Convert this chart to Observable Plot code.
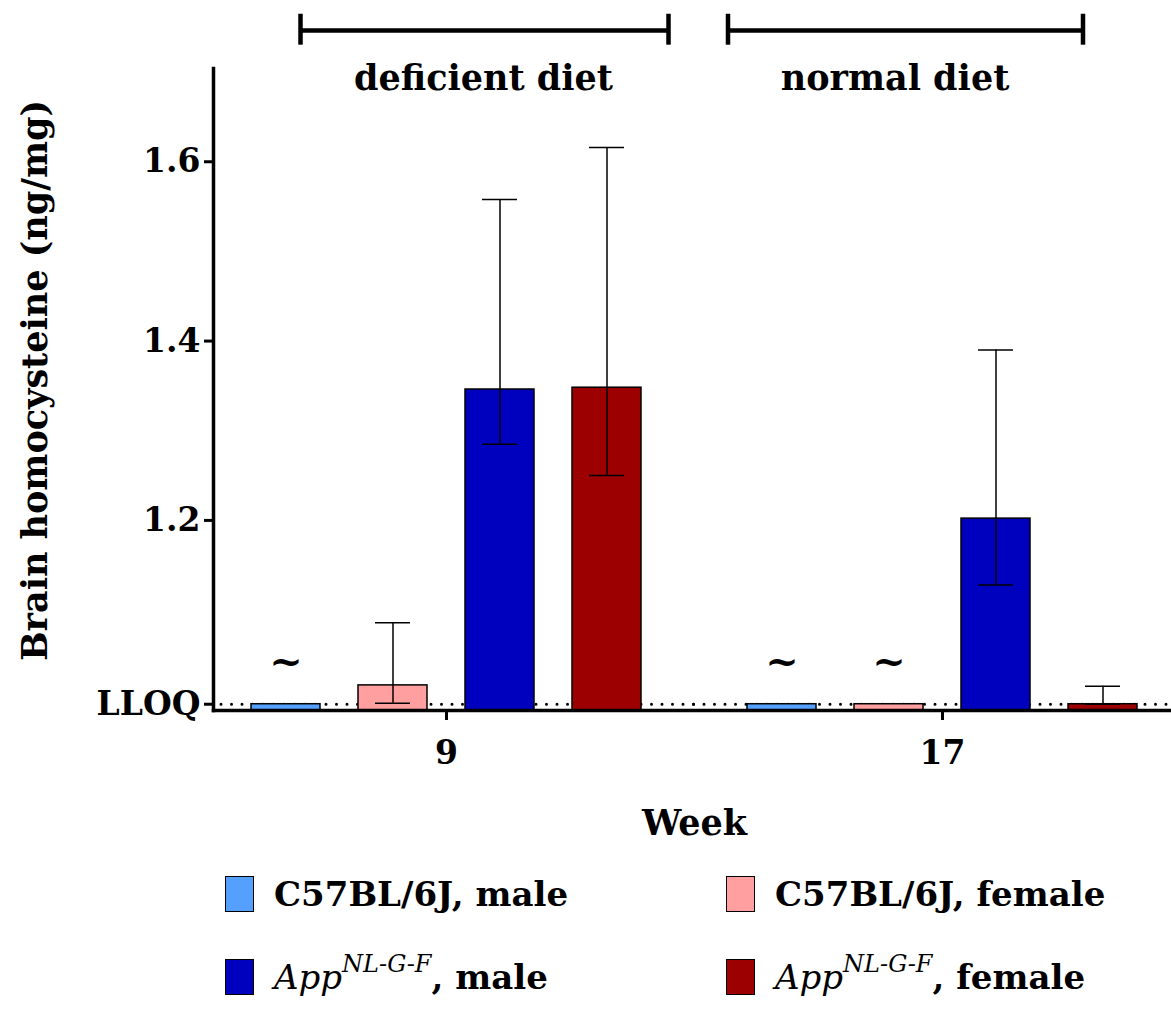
<!DOCTYPE html>
<html>
<head>
<meta charset="utf-8">
<script src="https://cdn.jsdelivr.net/npm/d3@7"></script>
<script src="https://cdn.jsdelivr.net/npm/@observablehq/plot@0.6"></script>
<style>
  html, body { margin: 0; padding: 0; background: white; overflow: hidden; }
  #chart svg { display: block; overflow: visible; }
  #legend {
    position: relative; height: 159px; font-family: "DejaVu Serif", serif;
    font-weight: bold; font-size: 34px; color: black;
  }
  .item { position: absolute; display: flex; align-items: center; height: 37px; white-space: nowrap; }
  .sw { width: 27px; height: 34px; border: 1.5px solid black; margin-right: 20px; flex: none; }
  .it { font-style: italic; font-weight: normal; }
  sup { font-size: 24px; font-style: italic; font-weight: normal; position: relative; top: -4px; vertical-align: super; line-height: 0; }
</style>
</head>
<body>
<div id="chart"></div>
<div id="legend"></div>
<script>
// ---- data ----
const weeks   = [9, 9, 9, 9, 17, 17, 17, 17];
const groups  = ["C57 male", "C57 female", "App male", "App female",
                 "C57 male", "C57 female", "App male", "App female"];
const means   = [0.995, 1.016, 1.346, 1.348, 0.995, 0.995, 1.202, 0.995];
const errLow  = [null, 0.996, 1.285, 1.250, null, null, 1.128, 0.995];
const errHigh = [null, 1.086, 1.558, 1.616, null, null, 1.390, 1.015];
const belowLLOQ = [true, false, false, false, true, true, false, false];

const groupKeys = ["C57 male", "C57 female", "App male", "App female"];
const groupColors = ["#55a0ff", "#ff9f9f", "#0000bf", "#9c0000"];
const legendParts = [
  [["C57BL/6J, male", ""]],
  [["C57BL/6J, female", ""]],
  [["App", "it"], ["NL-G-F", "sup"], [", male", ""]],
  [["App", "it"], ["NL-G-F", "sup"], [", female", ""]]
];

const yTicks = [0.995, 1.2, 1.4, 1.6];
const LLOQ = 0.995;
const yMin = 0.988, yMax = 1.704;

const dietWeeks  = [9, 17];
const dietLabels = ["deficient diet", "normal diet"];
const bracketY = 1.7465, capLow = 1.7300, capHigh = 1.7645, dietTextY = 1.6925;

// ---- table ----
const data = weeks.map((w, i) => ({
  week: w, group: groups[i], mean: means[i],
  lo: errLow[i], hi: errHigh[i], below: belowLLOQ[i]
}));
const withErr = data.filter(d => d.hi != null);
const tilde = data.filter(d => d.below);
const diets = dietWeeks.map((w, i) => ({week: w, label: dietLabels[i]}));

function bracket(i, insetLeft, insetRight, dxLeft, dxRight, dxText) {
  const d = [diets[i]];
  return [
    Plot.ruleY(d, {fx: "week", y: () => bracketY, insetLeft, insetRight, strokeWidth: 4.5, stroke: "black"}),
    Plot.ruleX(d, {fx: "week", x: null, y1: () => capLow, y2: () => capHigh, dx: dxLeft, strokeWidth: 4.5, stroke: "black"}),
    Plot.ruleX(d, {fx: "week", x: null, y1: () => capLow, y2: () => capHigh, dx: dxRight, strokeWidth: 4.5, stroke: "black"}),
    Plot.text(d, {fx: "week", y: () => dietTextY, text: "label", dx: dxText, fontSize: 35, fontWeight: "bold", lineAnchor: "middle"})
  ];
}

// dotted LLOQ reference line, stretched over the gap between facets
function lloqLine(i, insetLeft, insetRight) {
  return Plot.ruleY([diets[i]], {fx: "week", y: () => LLOQ, insetLeft, insetRight,
    stroke: "black", strokeWidth: 3, strokeDasharray: "0 10.5", strokeLinecap: "round"});
}

const chart = Plot.plot({
  width: 1171,
  height: 850,
  marginLeft: 213,
  marginRight: -4.5,
  marginTop: 68,
  marginBottom: 140,
  style: {fontFamily: "DejaVu Serif", fontWeight: "bold", fontSize: "33px", color: "black", background: "white", overflow: "visible"},
  fx: {domain: dietWeeks, paddingInner: 0.0614, paddingOuter: 0},
  x: {domain: groupKeys, paddingInner: 0.355, paddingOuter: 0.355, axis: null},
  y: {domain: [yMin, yMax]},
  color: {domain: groupKeys, range: groupColors},
  marks: [
    lloqLine(0, 8, -15.5),
    lloqLine(1, -15.5, 0),
    Plot.barY(data, {fx: "week", x: "group", y1: () => yMin, y2: "mean", fill: "group", stroke: "black", strokeWidth: 1.5}),
    Plot.ruleX(withErr, {fx: "week", x: "group", y1: "lo", y2: "hi", stroke: "black", strokeWidth: 1.5}),
    Plot.tickY(withErr, {fx: "week", x: "group", y: "hi", insetLeft: 17, insetRight: 17, stroke: "black", strokeWidth: 1.5}),
    Plot.tickY(withErr, {fx: "week", x: "group", y: "lo", insetLeft: 17, insetRight: 17, stroke: "black", strokeWidth: 1.5}),
    Plot.text(tilde, {fx: "week", x: "group", y: "mean", text: () => "~", dy: -42, fontSize: 40, fontWeight: "bold", lineAnchor: "middle"}),
    Plot.frame({anchor: "bottom", facet: "super", stroke: "black", strokeWidth: 3.5}),
    Plot.frame({anchor: "left", facet: "super", stroke: "black", strokeWidth: 3.5}),
    Plot.axisY({ticks: yTicks, tickFormat: d => d === LLOQ ? "LLOQ" : d.toFixed(1), tickSize: 9, tickPadding: 4, strokeWidth: 3, fontSize: 33, label: null}),
    Plot.axisFx({anchor: "bottom", tickSize: 10, tickPadding: 20, strokeWidth: 3, fontSize: 33, label: null}),
    Plot.text(["Week"], {facet: "super", frameAnchor: "bottom", dy: 113, fontSize: 35, fontWeight: "bold", lineAnchor: "middle", textAnchor: "middle"}),
    Plot.text(["Brain homocysteine (ng/mg)"], {facet: "super", frameAnchor: "left", rotate: -90, dx: -178, dy: -9, fontSize: 35, fontWeight: "bold", lineAnchor: "middle", textAnchor: "middle"}),
    ...bracket(0, 87, 11, -146, 222, 37),
    ...bracket(1, 18.5, 92.5, -214.5, 140.5, -47.5)
  ]
});
document.getElementById("chart").appendChild(chart);

// ---- legend (HTML below the SVG) ----
const colorScale = chart.scale("color");
const legend = document.getElementById("legend");
const slots = [[225, 25], [726, 25], [225, 108], [726, 108]];
groupKeys.forEach((k, i) => {
  const item = document.createElement("div");
  item.className = "item";
  item.style.left = slots[i][0] + "px";
  item.style.top = slots[i][1] + "px";
  const sw = document.createElement("span");
  sw.className = "sw";
  sw.style.background = colorScale.apply(k);
  item.appendChild(sw);
  const lab = document.createElement("span");
  legendParts[i].forEach(([txt, cls]) => {
    const el = document.createElement(cls === "sup" ? "sup" : "span");
    if (cls === "it") el.className = "it";
    el.textContent = txt;
    lab.appendChild(el);
  });
  item.appendChild(lab);
  legend.appendChild(item);
});
</script>
</body>
</html>
